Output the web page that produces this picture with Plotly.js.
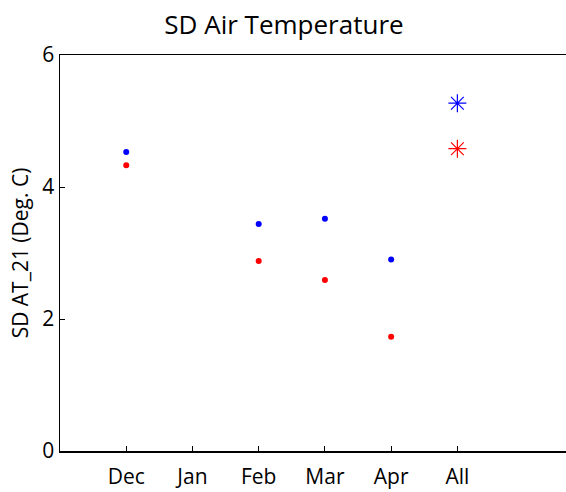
<!DOCTYPE html>
<html>
<head>
<meta charset="utf-8">
<script src="https://cdn.plot.ly/plotly-3.0.1.min.js"></script>
<style>
html,body{margin:0;padding:0;overflow:hidden;background:#fff;width:566px;height:492px;}
#chart{width:566px;height:492px;}
</style>
</head>
<body>
<div id="chart"></div>
<script>
var categories = ['Dec','Jan','Feb','Mar','Apr','All'];
var monthNames = ['Dec','Jan','Feb','Mar','Apr'];
var blueMonthly = [4.53, null, 3.44, 3.52, 2.90];
var redMonthly  = [4.33, null, 2.88, 2.59, 1.73];
var allLabel = ['All'];
var blueAll = [5.27];
var redAll  = [4.58];

var FONT = 'Open Sans, Liberation Sans, sans-serif';

var traces = [
  {x: monthNames, y: blueMonthly, type:'scatter', mode:'markers',
   marker:{color:'#0000ff', size:6, symbol:'circle'}, hoverinfo:'skip'},
  {x: monthNames, y: redMonthly, type:'scatter', mode:'markers',
   marker:{color:'#ff0000', size:6, symbol:'circle'}, hoverinfo:'skip'},
  {x: allLabel, y: blueAll, type:'scatter', mode:'markers',
   marker:{color:'#0000ff', size:15, symbol:'asterisk-open', line:{color:'#0000ff', width:1.2}}, hoverinfo:'skip'},
  {x: allLabel, y: redAll, type:'scatter', mode:'markers',
   marker:{color:'#ff0000', size:15, symbol:'asterisk-open', line:{color:'#ff0000', width:1.2}}, hoverinfo:'skip'}
];

var layout = {
  width: 566, height: 492,
  margin: {l:60, r:0, t:55, b:41},
  paper_bgcolor:'#fff', plot_bgcolor:'#fff',
  showlegend:false,
  font:{family:FONT, size:21, color:'#000'},
  title:{text:'SD Air Temperature', font:{family:FONT, size:26, color:'#000'},
         x:284/566, xanchor:'center', xref:'container', y:1-25/492, yanchor:'middle', yref:'container'},
  xaxis:{type:'category', categoryorder:'array', categoryarray:categories,
         range:[-1,6.64], showgrid:false, zeroline:false,
         showline:true, linecolor:'#000', linewidth:1.5, mirror:true,
         ticks:'inside', ticklen:5, tickwidth:1, tickcolor:'#000',
         ticklabelstandoff:6,
         tickfont:{family:FONT, size:21, color:'#000'}, fixedrange:true},
  yaxis:{range:[0,6], tickvals:[0,2,4,6], ticktext:['0','2','4','6'],
         showgrid:false, zeroline:false,
         showline:true, linecolor:'#000', linewidth:1.5, mirror:false,
         ticks:'inside', ticklen:5, tickwidth:1, tickcolor:'#000',
         tickfont:{family:FONT, size:21, color:'#000'},
         title:{text:'SD AT_21 (Deg. C)', font:{family:FONT, size:21, color:'#000'}, standoff:8},
         fixedrange:true}
};

Plotly.newPlot('chart', traces, layout, {staticPlot:true, displayModeBar:false});
</script>
</body>
</html>
